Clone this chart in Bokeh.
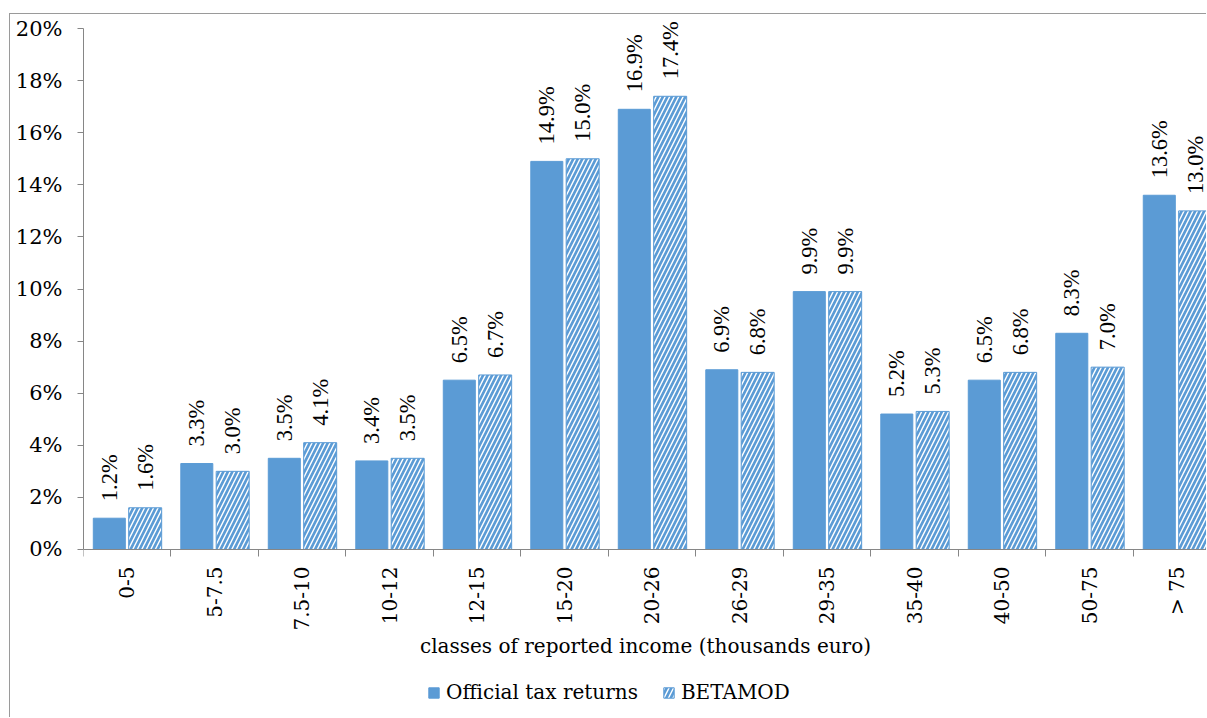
import numpy as np
from bokeh.plotting import figure
from bokeh.models import FixedTicker, PrintfTickFormatter, Legend, LegendItem, ColumnDataSource
from bokeh.embed import file_html
from bokeh.resources import INLINE

# Income classes (thousands euro) and share of taxpayers in each class (%)
categories = ["0-5", "5-7.5", "7.5-10", "10-12", "12-15", "15-20", "20-26",
              "26-29", "29-35", "35-40", "40-50", "50-75", "> 75"]
official = [1.2, 3.3, 3.5, 3.4, 6.5, 14.9, 16.9, 6.9, 9.9, 5.2, 6.5, 8.3, 13.6]
betamod = [1.6, 3.0, 4.1, 3.5, 6.7, 15.0, 17.4, 6.8, 9.9, 5.3, 6.8, 7.0, 13.0]
y_ticks = [0, 2, 4, 6, 8, 10, 12, 14, 16, 18, 20]

BLUE = "#5B9BD5"
AXIS_GRAY = "#868686"
FONT = "DejaVu Serif"

idx = np.arange(len(categories))
shift = 0.205
src_off = ColumnDataSource(dict(x=idx - shift, top=official,
                                lbl=[f"{v:.1f}%" for v in official]))
src_bet = ColumnDataSource(dict(x=idx + shift, top=betamod,
                                lbl=[f"{v:.1f}%" for v in betamod]))

# the frame runs down to the bottom edge so the category axis, its title and
# the legend all sit inside it, below the zero line
p = figure(width=1197, height=704, output_backend="svg", toolbar_location=None,
           x_range=(-0.5, 12.346), y_range=(-6.49, 20.54),
           min_border_left=73, min_border_right=0, min_border_top=0,
           min_border_bottom=0)
p.margin = (13, 0, 0, 9)
p.styles = {"border-left": "1px solid #9a9a9a", "border-top": "1px solid #9a9a9a"}
p.outline_line_color = None
p.xgrid.visible = False
p.ygrid.visible = False

r_off = p.vbar(x="x", top="top", width=0.366, source=src_off,
               fill_color=BLUE, line_color=BLUE, line_width=1)
r_bet = p.vbar(x="x", top="top", width=0.377, source=src_bet,
               fill_color=BLUE, line_color=BLUE, line_width=1,
               hatch_pattern="right_diagonal_line", hatch_color="white",
               hatch_scale=9, hatch_weight=1.45)

# value labels above each bar, rotated to read upwards
for src in (src_off, src_bet):
    p.text(x="x", y="top", text="lbl", source=src, angle=np.pi / 2,
           text_align="left", text_baseline="middle", y_offset=-17,
           text_font="DejaVu Serif", text_font_size="22.5px", text_color="black")

# y axis
p.yaxis.ticker = FixedTicker(ticks=y_ticks)
p.yaxis.formatter = PrintfTickFormatter(format="%d%%")
p.yaxis.bounds = (0, 20)
p.yaxis.axis_line_color = AXIS_GRAY
p.yaxis.major_tick_line_color = AXIS_GRAY
p.yaxis.major_tick_out = 6
p.yaxis.major_tick_in = 0
p.yaxis.minor_tick_line_color = None
p.yaxis.major_label_standoff = 15
p.yaxis.major_label_text_font = FONT
p.yaxis.major_label_text_font_size = "21px"
p.yaxis.major_label_text_color = "black"

# x axis pinned to the zero line: labels at class centres, separators between classes
p.xaxis.fixed_location = 0
p.xaxis.ticker = FixedTicker(ticks=list(idx), minor_ticks=list(np.arange(-0.5, 13.0, 1.0)))
p.xaxis.major_label_overrides = {int(i): c for i, c in zip(idx, categories)}
p.xaxis.major_label_orientation = np.pi / 2
p.xaxis.axis_line_color = AXIS_GRAY
p.xaxis.major_tick_line_color = None
p.xaxis.major_tick_out = 0
p.xaxis.major_tick_in = 0
p.xaxis.minor_tick_line_color = AXIS_GRAY
p.xaxis.minor_tick_out = 7
p.xaxis.minor_tick_in = 0
p.xaxis.major_label_standoff = 10
p.xaxis.major_label_text_font = FONT
p.xaxis.major_label_text_font_size = "20px"
p.xaxis.major_label_text_color = "black"
p.xaxis.axis_label = "classes of reported income (thousands euro)"
p.xaxis.axis_label_text_font = FONT
p.xaxis.axis_label_text_font_size = "20px"
p.xaxis.axis_label_text_font_style = "normal"
p.xaxis.axis_label_text_color = "black"
p.xaxis.axis_label_standoff = 0

legend = Legend(items=[LegendItem(label="Official tax returns", renderers=[r_off]),
                       LegendItem(label="BETAMOD", renderers=[r_bet])],
                location=(344, 14), orientation="horizontal",
                glyph_width=13, glyph_height=13, label_standoff=6, spacing=24,
                padding=0, margin=0, border_line_color=None,
                background_fill_alpha=0,
                label_text_font=FONT, label_text_font_size="20px",
                label_text_color="black")
p.add_layout(legend, "center")

open("out.html", "w").write(file_html(p, INLINE))
